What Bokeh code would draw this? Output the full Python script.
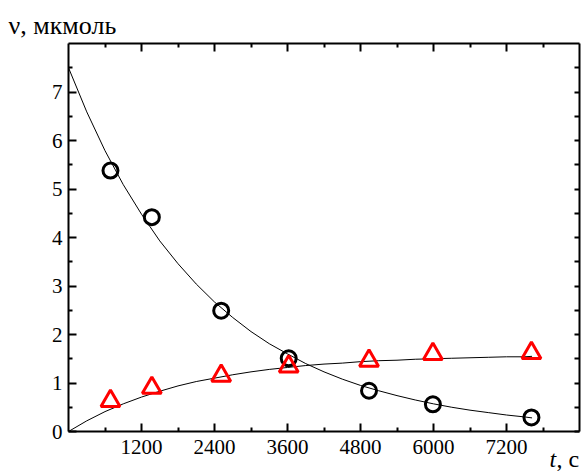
from bokeh.plotting import figure
from bokeh.models import LinearAxis, FixedTicker, Range1d, Label, Title
from bokeh.embed import file_html
from bokeh.resources import INLINE

# measured points
t_pts = [690, 1370, 2510, 3620, 4940, 5990, 7610]
nu_reactant = [5.38, 4.42, 2.49, 1.51, 0.84, 0.56, 0.29]
nu_product = [0.63, 0.90, 1.15, 1.34, 1.46, 1.60, 1.62]

# fitted curves
t_curve = [0, 300, 600, 900, 1200, 1500, 1800, 2100, 2400, 2700, 3000, 3300,
           3600, 3900, 4200, 4500, 4800, 5100, 5400, 5700, 6000, 6300, 6600,
           6900, 7200, 7500, 7620]
fit_reactant = [7.50, 6.59, 5.79, 5.09, 4.48, 3.93, 3.46, 3.04, 2.67, 2.35, 2.06,
                1.81, 1.60, 1.40, 1.23, 1.08, 0.95, 0.84, 0.74, 0.65, 0.57, 0.50,
                0.44, 0.39, 0.34, 0.30, 0.28]
fit_product = [0.00, 0.22, 0.41, 0.57, 0.71, 0.83, 0.94, 1.03, 1.10, 1.17, 1.23,
               1.28, 1.32, 1.36, 1.39, 1.41, 1.44, 1.46, 1.47, 1.49, 1.50, 1.51,
               1.52, 1.53, 1.54, 1.54, 1.55]

x_ticks = [1200, 2400, 3600, 4800, 6000, 7200]
x_minor = [600, 1800, 3000, 4200, 5400, 6600, 7800]
y_ticks = [0, 1, 2, 3, 4, 5, 6, 7]
y_minor = [0.5, 1.5, 2.5, 3.5, 4.5, 5.5, 6.5, 7.5]

FONT = "Liberation Serif"

p = figure(width=586, height=474, x_range=Range1d(0, 8400), y_range=Range1d(0, 8),
           toolbar_location=None, output_backend="svg",
           min_border_left=68, min_border_right=7, min_border_top=43,
           min_border_bottom=43)
p.outline_line_color = None
p.xgrid.visible = False
p.ygrid.visible = False
p.background_fill_color = "white"
p.border_fill_color = "white"


def style(ax, labels=True, major=8, minor=4):
    ax.axis_line_width = 2
    ax.axis_line_color = "black"
    ax.major_tick_in = major
    ax.major_tick_out = 0
    ax.minor_tick_in = minor
    ax.minor_tick_out = 0
    ax.major_tick_line_width = 2
    ax.minor_tick_line_width = 2
    ax.major_tick_line_color = "black"
    ax.minor_tick_line_color = "black"
    ax.major_label_text_font = FONT
    ax.major_label_text_font_size = "21px"
    ax.major_label_text_color = "black"
    if not labels:
        ax.major_label_text_font_size = "0px"
        ax.major_label_standoff = 0


p.xaxis.ticker = FixedTicker(ticks=x_ticks, minor_ticks=x_minor)
p.yaxis.ticker = FixedTicker(ticks=y_ticks, minor_ticks=y_minor)
style(p.xaxis[0])
style(p.yaxis[0])
p.xaxis.major_label_standoff = 8
p.yaxis.major_label_standoff = 6

top = LinearAxis(ticker=FixedTicker(ticks=x_ticks, minor_ticks=x_minor))
style(top, labels=False)
p.add_layout(top, "above")
right = LinearAxis(ticker=FixedTicker(ticks=y_ticks, minor_ticks=y_minor))
style(right, labels=False, major=5, minor=5)
p.add_layout(right, "right")

p.line(t_curve, fit_reactant, line_color="black", line_width=1)
p.line(t_curve, fit_product, line_color="black", line_width=1)

p.scatter(t_pts, nu_reactant, marker="circle", size=15, fill_color=None,
          line_color="black", line_width=3)
p.scatter(t_pts, nu_product, marker="triangle", size=19, fill_color=None,
          line_color="red", line_width=3)

p.add_layout(Title(text="ν, мкмоль", align="left", offset=-60,
                   text_font=FONT, text_font_size="26px", text_font_style="normal",
                   text_color="black", standoff=8), "above")

# axis name at the bottom right (placed in a side panel so it is not clipped)
p.add_layout(Label(x=7907, y=-0.56, text="t", text_font=FONT,
                   text_font_style="italic", text_font_size="24px",
                   text_color="black", text_baseline="alphabetic"), "left")
p.add_layout(Label(x=8022, y=-0.56, text=", с", text_font=FONT,
                   text_font_size="24px", text_color="black",
                   text_baseline="alphabetic"), "left")

open("out.html", "w").write(file_html(p, INLINE))
